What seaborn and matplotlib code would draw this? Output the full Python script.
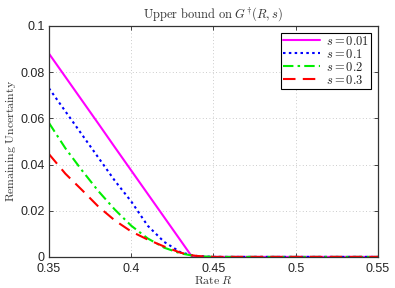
import pandas as pd
import matplotlib
matplotlib.use("Agg")
import matplotlib.pyplot as plt
import seaborn as sns

# data
rate = [0.35, 0.36, 0.37, 0.38, 0.39, 0.40, 0.41, 0.42, 0.43, 0.437, 0.44, 0.45, 0.55]
g_001 = [0.088, 0.0779, 0.0678, 0.0577, 0.0475, 0.0374, 0.0273, 0.0172, 0.0071, 0.0, 0.0, 0.0, 0.0]
g_01 = [0.073, 0.063, 0.053, 0.043, 0.033, 0.024, 0.0135, 0.0065, 0.002, 0.0007, 0.0004, 0.0, 0.0]
g_02 = [0.058, 0.047, 0.0375, 0.0285, 0.0205, 0.0135, 0.008, 0.004, 0.0015, 0.0006, 0.0003, 0.0, 0.0]
g_03 = [0.0445, 0.036, 0.029, 0.0218, 0.0158, 0.011, 0.0075, 0.0045, 0.0018, 0.0007, 0.0004, 0.0, 0.0]
s_labels = ["$s = 0.01$", "$s = 0.1$", "$s = 0.2$", "$s = 0.3$"]
x_ticks = [0.35, 0.4, 0.45, 0.5, 0.55]
y_ticks = [0, 0.02, 0.04, 0.06, 0.08, 0.1]

sns.set_style("ticks")
plt.rcParams["font.family"] = ["Liberation Sans", "DejaVu Sans"]
plt.rcParams["mathtext.fontset"] = "cm"

fig = plt.figure(figsize=(3.95, 2.88), dpi=100)
ax = fig.add_axes([0.124, 0.108, 0.833, 0.802])

series = [g_001, g_01, g_02, g_03]
colors = ["#ff00ff", "#0000ff", "#00ee00", "#ff0000"]
styles = ["-", ":", "-.", "--"]
dashes = [None, (1.2, 1.6), (5, 2, 1.2, 2), (6, 3.5)]

for vals, lab, c, ls, d in zip(series, s_labels, colors, styles, dashes):
    df = pd.DataFrame({"R": rate, "G": vals})
    sns.lineplot(data=df, x="R", y="G", ax=ax, color=c, linewidth=1.5,
                 label=lab, linestyle=ls)
    if d is not None:
        ax.lines[-1].set_dashes(d)

ax.set_xlim(0.35, 0.55)
ax.set_ylim(0, 0.1)
ax.set_xticks(x_ticks)
ax.set_xticklabels(["0.35", "0.4", "0.45", "0.5", "0.55"])
ax.set_yticks(y_ticks)
ax.set_yticklabels(["0", "0.02", "0.04", "0.06", "0.08", "0.1"])
ax.tick_params(direction="in", top=True, right=True, labelsize=9, length=3,
               width=0.6, pad=3)
ax.tick_params(axis="x", pad=4.5)
ax.grid(True, linestyle=(0, (1, 3)), color="#bbbbbb", linewidth=0.6)
for sp in ax.spines.values():
    sp.set_visible(True)
    sp.set_color("#333333")
    sp.set_linewidth(0.9)

ax.set_title(r"$\mathrm{Upper\ bound\ on\ } G^{\dagger}(R, s)$", fontsize=9, pad=6,
             color="#333333")
ax.set_xlabel(r"$\mathrm{Rate\ } R$", fontsize=8.5, labelpad=0, color="#333333")
ax.set_ylabel(r"$\mathrm{Remaining\ Uncertainty}$", fontsize=8.5, labelpad=2,
              color="#333333")

leg = ax.legend(loc="upper right", bbox_to_anchor=(0.98, 0.97), fontsize=9,
                frameon=True, fancybox=False, handlelength=3.0, borderpad=0.15,
                labelspacing=0.0, handletextpad=0.5, borderaxespad=0.0)
leg.get_frame().set_edgecolor("black")
leg.get_frame().set_linewidth(0.8)
leg.get_frame().set_alpha(1)

fig.savefig("out.png", dpi=100)
